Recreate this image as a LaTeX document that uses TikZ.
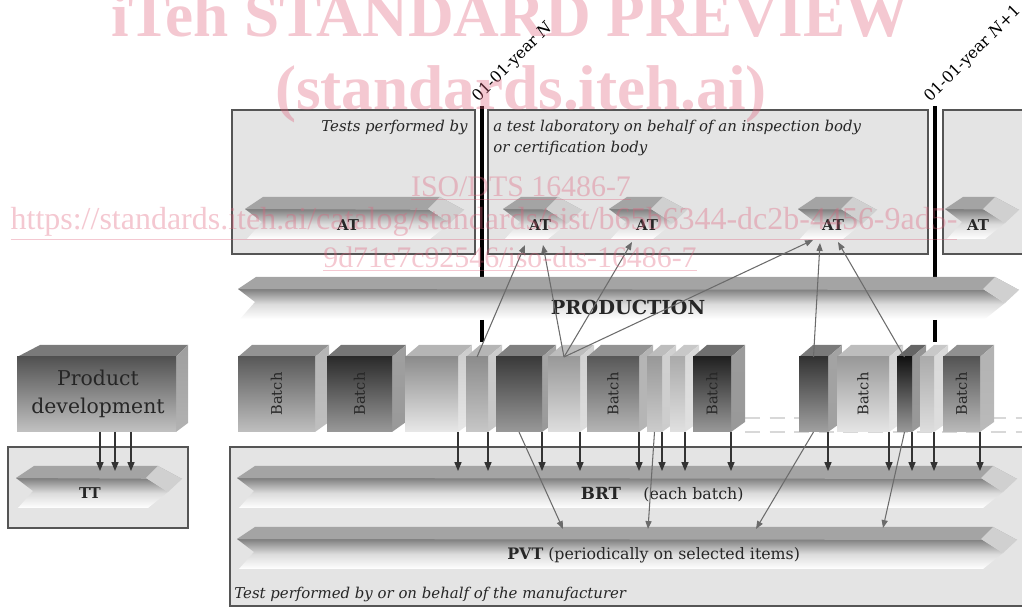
\documentclass[tikz,border=0pt]{standalone}
\usepackage{fontspec}
\setmainfont{DejaVu Serif}
\newfontfamily\wmfont{Liberation Serif}
\usetikzlibrary{arrows.meta}

\definecolor{boxfill}{HTML}{E4E4E4}
\definecolor{boxline}{HTML}{555555}
\definecolor{topface}{HTML}{A4A4A4}
\definecolor{headface}{HTML}{D0D0D0}
\definecolor{band}{HTML}{7E7E7E}
\definecolor{dashgray}{HTML}{D8D8D8}
\definecolor{wmred}{HTML}{E0607A}

\tikzset{
  testbox/.style={draw=boxline,fill=boxfill,line width=0.8pt},
  yearline/.style={line width=2.2pt},
  down/.style={draw=black!80,line width=0.6pt,-{Triangle[length=5pt,width=4pt]}},
  link/.style={draw=black!58,line width=0.6pt,-{Triangle[length=4.5pt,width=3.5pt]}},
  barlbl/.style={inner sep=0pt,text=black!85,font=\fontsize{8.5}{10}\selectfont\bfseries},
  note/.style={inner sep=0pt,text=black!85,font=\fontsize{8.5}{12}\selectfont\itshape},
  plain/.style={inner sep=0pt,text=black!85,font=\fontsize{9}{10}\selectfont},
  yearlbl/.style={inner sep=0pt,rotate=45,anchor=base west,font=\fontsize{9}{10}\selectfont},
  batchlbl/.style={inner sep=0pt,rotate=90,text=black!85,font=\fontsize{8.3}{9}\selectfont},
  wm/.style={inner sep=0pt,text=wmred,opacity=0.35,anchor=base},
}

% 3d arrow bar: left x, right x, top y
\newcommand\chevbar[3]{%
  \shade[top color=band,bottom color=white,middle color=black!14]
    (#1,#3+12) -- (#2-12,#3+12) -- (#2+10,#3+26) -- (#2-10,#3+42)
    -- (#1+2,#3+42) -- (#1+17,#3+25) -- cycle;
  \fill[topface] (#1+18,#3) -- (#2,#3) -- (#2+24,#3+13) -- (#1,#3+12) -- cycle;
  \fill[headface] (#2,#3) -- (#2+24,#3+13) -- (#2+10,#3+26) -- (#2-12,#3+12) -- cycle;
}

% batch block: name, left x, right x, top darkness, bottom darkness, text
\newcommand\batch[6]{%
  \fill[black!#4!white!65!white] (#2,357) -- (#2+14,345) -- (#3+14,345) -- (#3,357) -- cycle;
  \shade[top color=black!#4!white!45!white,bottom color=black!#5]
    (#3,357) -- (#3+14,345) -- (#3+14,422) -- (#3,432) -- cycle;
  \shade[top color=black!#4,bottom color=black!#5] (#2,357) rectangle (#3,432);
  \node[batchlbl] (#1) at ({(#2+#3)/2},394) {#6};
  \coordinate (#1-n) at ({(#2+#3)/2},357);
  \coordinate (#1-s) at ({(#2+#3)/2},432);
  \coordinate (#1-se) at (#3,432);
}

\begin{document}
\begin{tikzpicture}[x=0.02cm,y=-0.02cm]
  \useasboundingbox (0,0) rectangle (1022,607);
  \clip (0,0) rectangle (1022,607);

  % test boxes
  \draw[testbox] (232,110) rectangle (475,254);
  \draw[testbox] (488,110) rectangle (928,254);
  \draw[testbox] (943,110) rectangle (1040,254);
  \draw[testbox] (8,447) rectangle (188,528);
  \draw[testbox] (230,447) rectangle (1040,606);

  \node[note,anchor=base east] (byA) at (468,132) {Tests performed by};
  \node[note,anchor=base west] (byB) at (493,132) {a test laboratory on behalf of an inspection body};
  \node[note,anchor=base west] (byC) at (493,153) {or certification body};
  \node[note,anchor=base west] (byM) at (234,599) {Test performed by or on behalf of the manufacturer};

  % year marks
  \coordinate (yearA) at (482,106);
  \coordinate (yearB) at (935,106);
  \draw[yearline] (yearA) -- ++(0,171) ++(0,43) -- ++(0,22);
  \draw[yearline] (yearB) -- ++(0,171) ++(0,43) -- ++(0,22);
  \node[yearlbl] (yN) at (478,103) {01-01-year \textit{N}};
  \node[yearlbl] (yN1) at (930,103) {01-01-year \textit{N}+1};

  % bars
  \chevbar{245}{440}{197}
  \chevbar{503}{558}{197}
  \chevbar{609}{663}{197}
  \chevbar{798}{853}{197}
  \chevbar{945}{995}{197}
  \chevbar{238}{995}{277}
  \chevbar{16}{158}{466}
  \chevbar{237}{993}{466}
  \chevbar{237}{993}{527}

  \node[barlbl] (at0) at (348,225) {AT};
  \node[barlbl] (at1) at (540,225) {AT};
  \node[barlbl] (at2) at (647,225) {AT};
  \node[barlbl] (at3) at (833,225) {AT};
  \node[barlbl] (at4) at (978,225) {AT};
  \node[barlbl,font=\fontsize{11}{12}\selectfont\bfseries] (prod) at (628,307) {PRODUCTION};
  \node[barlbl] (tt) at (90,493) {TT};
  \node[barlbl,font=\fontsize{9.5}{10}\selectfont\bfseries,anchor=base] (brt) at (601,500) {BRT};
  \node[plain,anchor=base west] (brtnote) at (643,500) {(each batch)};
  \node[plain,anchor=base west] (pvt) at (507,560) {\textbf{PVT} (periodically on selected items)};

  % dashed lines behind the batches
  \draw[dashgray,line width=1.5pt,dash pattern=on 8.5pt off 5.5pt] (745,418) -- (1022,418);
  \draw[dashgray,line width=1.5pt,dash pattern=on 8.5pt off 5.5pt] (745,432) -- (1022,432);

  % product development
  \fill[black!52] (17,357) -- (40,345) -- (188,345) -- (176,357) -- cycle;
  \shade[top color=black!38,bottom color=black!30] (176,357) -- (188,345) -- (188,423) -- (176,432) -- cycle;
  \shade[top color=black!68,bottom color=black!24] (17,357) rectangle (176,432);
  \node[align=center,inner sep=0pt,text=black!85,font=\fontsize{11.6}{16}\selectfont] (pd) at (98,394) {Product\\development};
  \coordinate (pd-s) at (115,432);
  \coordinate (tt-n) at (115,471);
  \foreach \dx in {-0.3cm,0cm,0.32cm}
    \draw[down] ([xshift=\dx]pd-s) -- ([xshift=\dx]tt-n);

  % batches
  \batch{b1}{238}{315}{65}{25}{Batch}
  \batch{b2}{327}{392}{83}{40}{Batch}
  \batch{b3}{405}{458}{45}{9}{}
  \batch{b4}{466}{488}{45}{22}{}
  \batch{b5}{496}{542}{77}{40}{}
  \batch{b6}{548}{580}{40}{13}{}
  \batch{b7}{587}{639}{65}{29}{Batch}
  \batch{b8}{647}{662}{40}{20}{}
  \batch{b9}{670}{685}{33}{12}{}
  \batch{b10}{693}{731}{87}{40}{Batch}
  \batch{b11}{799}{828}{80}{37}{}
  \batch{b12}{837}{889}{40}{10}{Batch}
  \batch{b13}{897}{912}{93}{40}{}
  \batch{b14}{920}{934}{33}{13}{}
  \batch{b15}{943}{980}{67}{27}{Batch}

  \coordinate (brt-top) at (0,471);
  \foreach \b in {b3,b4,b5,b6,b7,b8,b9,b10,b11,b12,b13,b14,b15}
    \draw[down] (\b-se) -- (\b-se |- brt-top);

  % sampling for type tests
  \coordinate (pv1) at (563,529);
  \coordinate (pv2) at (648,529);
  \coordinate (pv3) at (756,529);
  \coordinate (pv4) at (883,528);
  \draw[link] (b4-n) -- ([shift={(-15,20)}]at1.center);
  \draw[link] (b6-n) -- ([shift={(3,20)}]at1.center);
  \draw[link] (b6-n) -- ([shift={(-15,17)}]at2.center);
  \draw[link] (b6-n) -- ([shift={(-20,15)}]at3.center);
  \draw[link] (b11-n) -- ([shift={(-13,18)}]at3.center);
  \draw[link] (b13-n) -- ([shift={(5,17)}]at3.center);
  \draw[link] (b5-s) -- (pv1);
  \draw[link] (b8-s) -- (pv2);
  \draw[link] (b11-s) -- (pv3);
  \draw[link] (b13-s) -- (pv4);

  % preview watermark
  \node[wm,font=\wmfont\bfseries\fontsize{36}{36}\selectfont] (wm1) at (510,37) {iTeh STANDARD PREVIEW};
  \node[wm,font=\wmfont\bfseries\fontsize{36}{36}\selectfont] (wm2) at (521,110) {(standards.iteh.ai)};
  \node[wm,font=\wmfont\fontsize{17}{17}\selectfont] (wm3) at (521,197) {\underline{ISO/DTS 16486-7}};
  \node[wm,font=\wmfont\fontsize{18.2}{18}\selectfont] (wm4) at (484,230) {\underline{https://standards.iteh.ai/catalog/standards/sist/b65b6344-dc2b-4456-9ad5-}};
  \node[wm,font=\wmfont\fontsize{17}{17}\selectfont] (wm5) at (510,268) {\underline{9d71e7c92546/iso-dts-16486-7}};
\end{tikzpicture}
\end{document}
